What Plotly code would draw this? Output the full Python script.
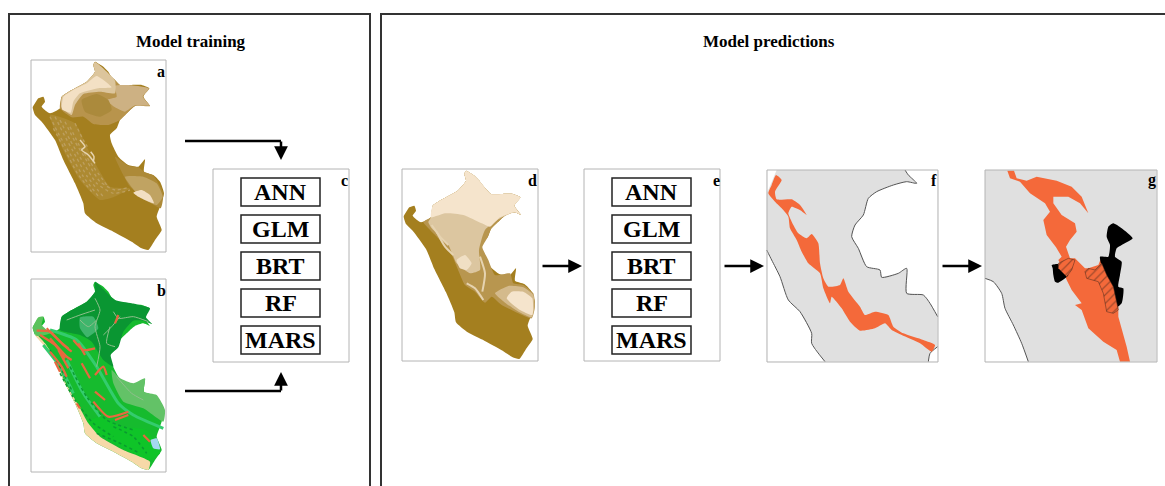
import plotly.graph_objects as go

# ---- text content ----
TITLES = ["Model training", "Model predictions"]
MODELS = ["ANN", "GLM", "BRT", "RF", "MARS"]
PANEL_LETTERS = ["a", "b", "c", "d", "e", "f", "g"]

# ---- map outlines (3x crop units) ----
PERU = [(285,185),(297,192),(310,200),(325,215),(335,232),(345,240),(360,255),(395,255),(425,255),(448,265),(436,278),(430,290),(450,318),(430,310),(405,318),(385,335),(360,360),(350,385),(330,405),(335,430),(355,470),(385,495),(415,500),(435,478),(432,515),(460,525),(480,545),(492,580),(480,620),(470,650),(485,690),(465,720),(445,750),(425,745),(395,725),(340,695),(290,670),(255,640),(250,610),(225,550),(190,480),(165,420),(125,365),(105,345),(98,322),(105,310),(115,295),(130,290),(135,305),(125,320),(150,340),(180,325),(185,290),(215,270),(260,245),(285,215),(280,195)]

A_MID = [(180,325),(185,290),(215,270),(260,245),(285,215),(280,195),(285,185),(345,240),(360,255),(448,265),(430,290),(450,318),(405,318),(360,360),(325,375),(280,372),(250,350),(215,352)]
A_DARKER = [(245,300),(290,282),(325,300),(335,330),(300,350),(255,335)]
A_TAN = [(184,322),(186,290),(215,270),(260,245),(285,215),(280,195),(285,186),(345,242),(345,280),(300,275),(250,282),(225,315),(215,345)]
A_PALE = [(186,312),(190,290),(216,272),(260,250),(290,228),(335,262),(295,265),(240,280),(220,305),(212,338),(186,328)]
A_EAST = [(345,258),(395,256),(446,266),(428,290),(448,316),(405,316),(375,335),(345,322),(320,300),(350,290)]
A_SE_HALO = [(345,470),(385,497),(415,502),(432,515),(460,527),(490,580),(482,625),(440,600),(390,560)]
A_SE_MID = [(375,530),(430,530),(470,550),(488,590),(470,615),(420,590)]
A_SE_PALE = [(400,578),(425,570),(450,585),(462,610),(440,602),(415,590)]
A_BAND = [(150,345),(225,370),(265,450),(330,560),(390,565),(340,592),(300,600),(240,540),(190,450)]
A_SPECKLE = [
    [(150,350),(175,400),(215,470),(250,530),(300,595)],
    [(165,350),(190,400),(228,470),(262,530),(310,590)],
    [(180,360),(210,420),(245,480),(290,550),(340,580),(390,570)],
    [(195,365),(225,425),(262,485),(300,545),(345,570),(385,562)],
    [(210,380),(240,440),(280,500),(320,555)],
    [(160,385),(195,450),(232,520),(275,575)],
    [(225,370),(250,420),(262,440)],
]
A_SWIRL = [
    [(240,420),(255,440),(245,450),(265,465),(285,490)],
    [(272,455),(282,470),(280,485)],
]

B_DARK = [(285,65),(345,120),(395,130),(450,145),(438,172),(456,192),(430,182),(400,182),(370,215),(355,262),(332,285),(340,320),(310,300),(275,245),(240,225),(180,210),(185,170),(215,150),(260,125),(285,95)]
B_TEAL = [(240,172),(280,170),(295,205),(262,232),(240,205)]
B_EAST = [(335,330),(360,355),(400,370),(435,355),(432,395),(470,405),(495,450),(490,485),(430,445),(370,425),(340,370)]
B_COAST = [(105,225),(130,255),(165,300),(190,360),(225,430),(250,490),(255,520),(290,550),(340,575),(395,605),(425,625),(445,630),(450,605),(370,570),(300,530),(265,490),(235,435),(195,365),(170,305),(135,250),(108,222)]
B_NW = [(98,205),(115,172),(130,170),(125,195),(150,220),(110,228)]
B_SOUTH = [(250,490),(300,470),(370,500),(440,510),(480,580),(445,600),(370,565),(300,525)]
B_LAKE = [(452,540),(470,535),(480,568),(460,565)]
B_BANDS = [
    [(150,210),(230,240),(290,320),(355,430),(400,465),(490,505)],
    [(200,300),(250,400),(300,470)],
    [(130,255),(180,320),(220,400)],
]
B_DARK_STREAKS = [
    [(180,340),(225,420),(280,490),(340,530)],
    [(210,320),(260,410),(320,480),(400,510)],
    [(340,500),(400,530),(440,580)],
    [(290,520),(350,545),(420,580)],
    [(150,270),(185,330),(215,390)],
]
B_RED = [
    [(110,212),(150,215),(190,255),(215,275)],
    [(140,205),(175,240),(205,265)],
    [(120,225),(165,255),(195,295)],
    [(150,235),(200,290),(215,300)],
    [(220,240),(250,270),(285,265)],
    [(235,250),(255,285)],
    [(150,275),(185,320),(200,350)],
    [(175,270),(205,325)],
    [(245,310),(270,355)],
    [(285,345),(310,320),(320,345)],
    [(285,395),(315,420)],
    [(280,425),(325,470),(385,455)],
    [(345,480),(385,465)],
    [(430,525),(450,545)],
    [(230,430),(240,445)],
    [(165,305),(180,335)],
    [(355,165),(345,190)],
]
B_RIVERS = [
    [(285,115),(300,150),(285,200),(300,260),(290,320)],
    [(360,170),(335,200),(310,225)],
    [(340,155),(355,175),(400,170),(445,185)],
    [(200,180),(240,165),(285,150)],
    [(350,350),(395,400),(430,420)],
    [(240,180),(265,200),(290,180)],
    [(330,200),(320,250),(345,260)],
]

D_MID = [(85,186),(108,172),(113,137),(143,117),(188,92),(213,62),(208,42),(213,32),(238,47),(253,62),(273,87),(288,102),(323,102),(353,102),(376,112),(358,137),(378,165),(358,157),(333,165),(313,182),(288,207),(278,232),(262,262),(280,300),(300,345),(345,340),(355,370),(385,375),(415,400),(420,440),(410,475),(370,460),(320,435),(290,410),(270,428),(240,395),(210,375),(170,285),(130,235)]
D_TAN = [(100,186),(108,172),(113,137),(143,117),(188,92),(213,62),(208,42),(213,32),(238,47),(253,62),(273,87),(288,102),(323,102),(353,102),(376,112),(358,137),(378,165),(358,157),(310,178),(270,210),(252,270),(255,330),(225,340),(185,310),(160,255),(110,205)]
D_PALE = [(108,172),(113,137),(143,117),(188,92),(213,62),(208,42),(213,32),(238,47),(253,62),(273,87),(288,102),(323,102),(353,102),(376,112),(358,137),(378,165),(358,157),(315,172),(285,200),(260,190),(205,165),(150,160)]
D_SE = [(300,400),(340,378),(385,382),(415,405),(418,445),(410,472),(372,456),(330,428)]
D_SE_PALE = [(335,415),(350,395),(385,395),(412,415),(412,465),(375,450)]
D_SPOT = [(185,300),(210,285),(230,310),(215,330),(195,325)]
D_STREAKS = [
    [(215,370),(240,385),(265,420)],
    [(255,290),(270,340),(262,395)],
    [(110,195),(135,230),(160,255)],
    [(125,215),(150,260),(175,285)],
]

F_COAST_W = [(20,270),(35,300),(60,350),(85,420),(120,455),(155,520),(155,550),(195,605)]
F_WEST = F_COAST_W + [(20,605)]
F_NW = [(20,30),(50,30),(25,90),(20,100)]
F_EDGE = [(435,30),(445,45),(470,70),(440,65),(400,75),(350,95),(325,115),(310,165),(285,195),(275,230),(295,265),(320,320),(360,330),(365,352),(415,340),(440,325),(440,400),(490,405),(510,430),(533,470)]
F_EAST = F_EDGE + [(533,30)]
F_SE_EDGE = [(533,560),(510,580),(505,605)]
F_SE = F_SE_EDGE + [(533,605)]
F_RANGE = [(48,45),(65,60),(45,95),(50,118),(95,118),(120,135),(140,165),(120,150),(95,140),(85,160),(95,185),(115,220),(140,235),(155,222),(175,250),(180,310),(190,355),(205,380),(240,375),(250,355),(265,395),(300,440),(315,465),(345,455),(385,465),(400,500),(430,520),(490,540),(525,555),(515,575),(480,550),(425,525),(395,510),(375,490),(345,505),(300,512),(270,485),(245,445),(215,410),(210,430),(190,385),(180,340),(145,310),(125,275),(110,240),(90,205),(85,170),(65,145),(45,125),(25,100),(35,75)]

G_COAST = [(675,355),(700,365),(725,400),(735,445),(760,495),(785,550),(805,605)]
G_WEST = G_COAST + [(675,605)]
G_RANGE = [(742,32),(762,32),(770,55),(800,62),(830,50),(890,62),(935,80),(965,110),(985,160),(960,130),(925,110),(880,110),(880,130),(905,165),(945,190),(950,215),(930,240),(918,260),(930,295),(945,295),(975,325),(985,325),(1015,315),(1025,290),(1040,350),(1075,400),(1075,470),(1100,560),(1110,605),(1080,605),(1070,570),(1030,545),(985,505),(965,450),(945,435),(965,430),(935,390),(920,360),(905,320),(895,300),(905,290),(888,262),(860,225),(850,180),(870,155),(855,130),(810,100),(780,65),(750,55)]
G_BLACK_E = [(1045,200),(1060,190),(1085,205),(1118,235),(1085,255),(1070,265),(1065,290),(1085,305),(1080,345),(1075,380),(1090,385),(1085,430),(1065,445),(1055,420),(1050,370),(1030,335),(1020,290),(1045,290),(1050,255),(1040,230)]
G_BLACK_W = [(875,315),(895,312),(900,325),(925,345),(895,368),(885,365),(880,345),(878,325)]
G_HATCH_W = [(895,310),(925,295),(945,300),(935,330),(920,350),(895,325)]
G_HATCH_E = [(975,335),(985,325),(1005,330),(1025,310),(1040,345),(1060,380),(1075,450),(1060,460),(1040,455),(1030,400),(1015,365),(980,355)]

BROWN = "#a47f1f"
ORANGE = "#f4693a"
LAND = "#e0e0e0"
FRAME = "#b4b4b4"
SERIF = "Liberation Serif"

fig = go.Figure()


def px(pts, ox=0, oy=0):
    """3x crop units to page pixels."""
    return [p[0] / 3 + ox for p in pts], [p[1] / 3 + oy for p in pts]


def poly(pts, fill, ox=0, oy=0, line=None, lw=0, pattern=None, smooth=True):
    x, y = px(pts + pts[:1], ox, oy)
    kw = {"fillpattern": pattern} if pattern else {}
    ln = dict(color=line or fill, width=lw)
    if smooth:
        ln.update(shape="spline", smoothing=0.5)
    fig.add_trace(go.Scatter(x=x, y=y, mode="lines", fill="toself", fillcolor=fill, line=ln,
                             hoverinfo="skip", showlegend=False, **kw))


def path(pts, color, width, ox=0, oy=0, dash=None):
    x, y = px(pts, ox, oy)
    fig.add_trace(go.Scatter(x=x, y=y, mode="lines",
                             line=dict(color=color, width=width, dash=dash, shape="spline", smoothing=0.6),
                             hoverinfo="skip", showlegend=False))


# panel a
poly(PERU, BROWN)
poly(A_MID, "#b8944c")
poly(A_EAST, "#cdb183")
poly(A_DARKER, "#ab8a3c")
poly(A_TAN, "#dcc59c")
poly(A_PALE, "#f3e0c4")
poly(A_BAND, "#ad8a32")
poly(A_SE_HALO, "#ad8a38")
poly(A_SE_MID, "#c0a362")
poly(A_SE_PALE, "#f2dfc3")
for s in A_SPECKLE:
    path(s, "#bd9f5e", 1.3, dash="dot")
for s in A_SWIRL:
    path(s, "#e6d3ae", 1.5)

# panel b
poly(PERU, "#16bb2e", 0, 220)
poly(B_SOUTH, "#0fc428", 0, 260)
poly(B_COAST, "#f6d9a8", 0, 260)
poly(B_DARK, "#0a9632", 0, 260)
poly(B_EAST, "#63c267", 0, 260)
poly(B_TEAL, "#3fb56c", 0, 260)
poly(B_NW, "#5cc25c", 0, 260)
for s in B_BANDS:
    path(s, "#34cc6e", 3, 0, 260)
for s in B_DARK_STREAKS:
    path(s, "#0a9a30", 1.5, 0, 260, dash="dot")
for r in B_RIVERS:
    path(r, "#8fbf8c", 1, 0, 260)
for r in B_RED:
    path(r, "#e8683f", 2.2, 0, 260)
poly(B_LAKE, "#a5d8f0", 0, 260)

# panel d
poly(PERU, BROWN, 371, 109)
poly(D_MID, "#b8964f", 395, 160)
poly(D_TAN, "#dcc6a0", 395, 160)
poly(D_SE, "#d4ba8c", 395, 160)
poly(D_SE_PALE, "#f5e4cc", 395, 160)
poly(D_PALE, "#f5e4cc", 395, 160)
poly(D_SPOT, "#f0dfc4", 395, 160)
for s in D_STREAKS:
    path(s, "#e6d3b0", 2, 395, 160)

# panel f
poly([(20,30),(533,30),(533,605),(20,605)], LAND, 760, 160, smooth=False)
poly(F_WEST, "#ffffff", 760, 160, smooth=False)
poly(F_NW, "#ffffff", 760, 160, smooth=False)
poly(F_EAST, "#ffffff", 760, 160, smooth=False)
poly(F_SE, "#ffffff", 760, 160, smooth=False)
path(F_COAST_W, "#555555", 1, 760, 160)
path(F_EDGE, "#555555", 1, 760, 160)
path(F_SE_EDGE, "#555555", 1, 760, 160)
poly(F_RANGE, ORANGE, 760, 160)

# panel g
poly([(675,30),(1190,30),(1190,605),(675,605)], LAND, 760, 160, smooth=False)
poly(G_WEST, "#ffffff", 760, 160, smooth=False)
path(G_COAST, "#555555", 1, 760, 160)
poly(G_RANGE, ORANGE, 760, 160, smooth=False)
poly(G_BLACK_E, "#000000", 760, 160)
poly(G_BLACK_W, "#000000", 760, 160)
HATCH = dict(shape="/", fgcolor="#4a2a1c", bgcolor=ORANGE, size=6, solidity=0.2)
poly(G_HATCH_W, ORANGE, 760, 160, line="#4a2a1c", lw=0.5, pattern=HATCH, smooth=False)
poly(G_HATCH_E, ORANGE, 760, 160, line="#4a2a1c", lw=0.5, pattern=HATCH, smooth=False)

shapes = []


def rect(x0, y0, x1, y1, color, width):
    shapes.append(dict(type="rect", xref="x", yref="y", x0=x0, y0=y0, x1=x1, y1=y1,
                       line=dict(color=color, width=width)))


def seg(x0, y0, x1, y1):
    shapes.append(dict(type="line", xref="x", yref="y", x0=x0, y0=y0, x1=x1, y1=y1,
                       line=dict(color="#000000", width=2.5)))


# outer frames run off the page
rect(9, 14, 370, 500, "#333333", 2)
rect(381, 14, 1180, 500, "#333333", 2)
# map and model frames
for box in [(31, 60, 166, 252), (31, 279, 166, 472), (213, 169, 349, 362),
            (402, 169, 538, 361), (584, 169, 720, 361), (767, 170, 938, 362), (985, 170, 1157, 362)]:
    rect(*box, FRAME, 1)

annotations = []


def text(x, y, s, size):
    annotations.append(dict(x=x, y=y, xref="x", yref="y", text=f"<b>{s}</b>", showarrow=False,
                            font=dict(family=SERIF, size=size, color="#000000"),
                            xanchor="center", yanchor="middle"))


def arrow(x0, y0, x1, y1):
    annotations.append(dict(x=x1, y=y1, ax=x0, ay=y0, xref="x", yref="y", axref="x", ayref="y",
                            text="", showarrow=True, arrowhead=2, arrowsize=1.1, arrowwidth=2.5,
                            arrowcolor="#000000"))


text(191, 41, TITLES[0], 17)
text(769, 41, TITLES[1], 17)

ROW_TOPS = [178, 215, 252, 289, 326]
for left in (241, 612):
    for name, top in zip(MODELS, ROW_TOPS):
        rect(left, top, left + 79, top + 28, "#222222", 1.5)
        text(left + 39.5, top + 14, name, 24)

LETTER_POS = [(161, 71), (161, 290), (344, 180), (532, 180), (716, 180), (934, 180), (1152, 180)]
for s, (x, y) in zip(PANEL_LETTERS, LETTER_POS):
    text(x, y, s, 16)

seg(185, 141, 281, 141)
arrow(281, 140, 281, 160)
seg(185, 391, 281, 391)
arrow(281, 392, 281, 372)
arrow(541, 266, 582, 266)
arrow(723, 266, 764, 266)
arrow(941, 266, 982, 266)

fig.update_layout(
    width=1165, height=486, margin=dict(l=0, r=0, t=0, b=0),
    paper_bgcolor="#ffffff", plot_bgcolor="#ffffff", showlegend=False,
    xaxis=dict(range=[0, 1165], visible=False, fixedrange=True),
    yaxis=dict(range=[486, 0], visible=False, fixedrange=True),
    shapes=shapes, annotations=annotations,
)
fig.write_html("out.html", config={"displayModeBar": False},
               post_script="document.body.style.margin='0';document.documentElement.style.overflow='hidden';")
